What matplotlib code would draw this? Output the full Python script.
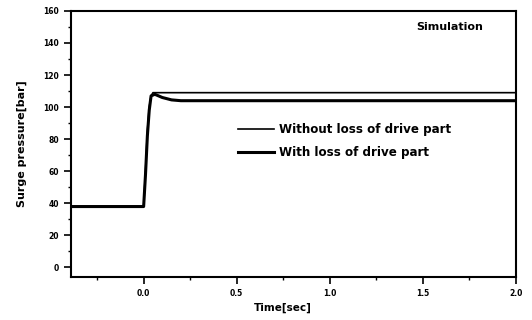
import numpy as np
import matplotlib as mpl
mpl.use('Agg')
import matplotlib.pyplot as plt
from matplotlib.ticker import MultipleLocator

mpl.rcParams.update({'font.family': 'DejaVu Sans', 'font.weight': 'bold'})

# surge pressure response, time in sec, pressure in bar
t_without = [-0.39, 0.0, 0.01, 0.02, 0.03, 0.04, 0.05, 2.0]
p_without = [38, 38, 60, 85, 100, 107, 109, 109]
t_with = [-0.39, 0.0, 0.01, 0.02, 0.03, 0.04, 0.06, 0.1, 0.15, 0.2, 2.0]
p_with = [38, 38, 58, 82, 98, 107, 108, 106, 104.5, 104, 104]

labels = ["Without loss of drive part", "With loss of drive part"]

fig = plt.figure(figsize=(5.32, 3.2), dpi=100)
ax = fig.add_axes([0.1335, 0.134, 0.8365, 0.832])

ax.plot(t_without, p_without, color='black', lw=1.2, label=labels[0])
ax.plot(t_with, p_with, color='black', lw=2.2, label=labels[1])

ax.set_xlim(-0.39, 2.0)
ax.set_ylim(-6, 160)
ax.xaxis.set_major_locator(MultipleLocator(0.5))
ax.xaxis.set_minor_locator(MultipleLocator(0.25))
ax.yaxis.set_major_locator(MultipleLocator(20))
ax.yaxis.set_minor_locator(MultipleLocator(10))
ax.set_xticks([0.0, 0.5, 1.0, 1.5, 2.0])
ax.set_xticklabels(["0.0", "0.5", "1.0", "1.5", "2.0"])
ax.tick_params(which='major', direction='out', length=5, width=1.2, labelsize=5.5)
ax.tick_params(which='minor', direction='out', length=2.5, width=1)
for sp in ax.spines.values():
    sp.set_linewidth(1.5)

ax.set_xlabel("Time[sec]", fontsize=7.5, fontweight='bold')
ax.xaxis.set_label_coords(0.475, -0.095)
ax.set_ylabel("Surge pressure[bar]", fontsize=8, fontweight='bold', labelpad=12)

ax.text(0.925, 0.94, "Simulation", transform=ax.transAxes, ha='right', va='center',
        fontsize=8, fontweight='bold')

ax.legend(loc='upper left', bbox_to_anchor=(0.375, 0.58), frameon=False,
          fontsize=8.6, handlelength=3.0, handletextpad=0.45, labelspacing=0.9,
          borderpad=0, borderaxespad=0)

plt.savefig("out.png", dpi=100)
